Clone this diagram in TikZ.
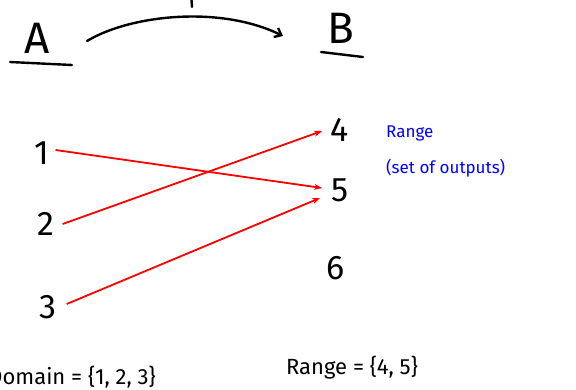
\documentclass[tikz,border=0pt]{standalone}
\usepackage{fontspec}
\setmainfont{Fira Sans}
\newfontfamily\handfont{Fira Sans}
\usetikzlibrary{arrows.meta}
\begin{document}
\begin{tikzpicture}[x=1pt,y=-1pt,
  hand/.style={font=\handfont\fontsize{34}{34}\selectfont, inner sep=0pt},
  big/.style={font=\handfont\fontsize{44}{44}\selectfont, inner sep=0pt},
  stroke/.style={line width=2.4pt, line cap=round, black},
  mapping/.style={red, line width=1.8pt, -{Stealth[length=8pt,width=6pt]}},
  note/.style={blue, font=\fontsize{17}{17}\selectfont, inner sep=0pt, anchor=base west},
  setlabel/.style={black, font=\fontsize{22}{22}\selectfont, inner sep=0pt, anchor=base}]
\useasboundingbox[fill=white] (0,0) rectangle (576,389);
% sets
\node[big] (A) at (37,38) {A};
\draw[stroke] (10,62) -- (72,65);
\node[big] (B) at (341,28) {B};
\draw[stroke] (321,52) -- (363,57);
\coordinate (fs) at (87,41);
\coordinate (fe) at (283,36);
\draw[stroke, -{Straight Barb[length=6pt,width=10pt]}] (fs) .. controls (130,15) and (220,5) .. (fe);
\draw[stroke] (191.5,0) -- (192,7);
% elements
\node[hand] (n1) at (42,153) {1};
\node[hand] (n2) at (46,224) {2};
\node[hand] (n3) at (48,307) {3};
\node[hand] (n4) at (340,130) {4};
\node[hand] (n5) at (340,190) {5};
\node[hand] (n6) at (336,268) {6};
% arrows
\draw[mapping] (n1.east) ++(6,-3) -- (322,188);
\draw[mapping] (n2.east) ++(8,0) -- (322,131);
\draw[mapping] (n3.east) ++(10,-3) -- (320,198);
% notes
\node[note] (rng) at (386,137) {Range};
\node[note] (out) at (386,173) {(set of outputs)};
\node[setlabel, anchor=base east] (dom) at (156,384) {Domain = \{1, 2, 3\}};
\node[setlabel] (rset) at (352,374) {Range = \{4, 5\}};
\end{tikzpicture}
\end{document}
